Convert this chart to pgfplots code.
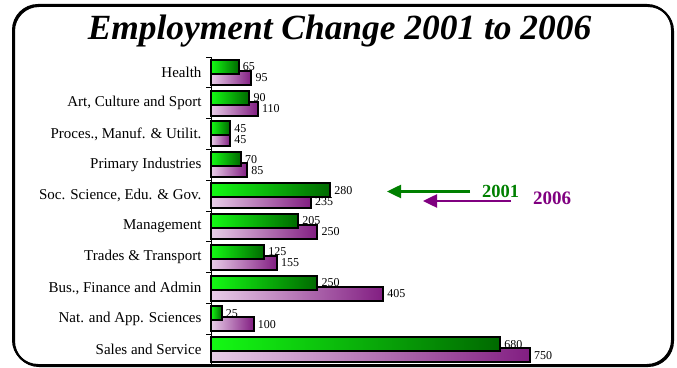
\documentclass[border=0pt]{standalone}
\usepackage{pgfplots}
\usepackage{pgfplotstable}
\pgfplotsset{compat=1.18}
\usepackage{fontspec}
\setmainfont{Liberation Serif}
\usetikzlibrary{arrows.meta}
\definecolor{gL}{RGB}{20,250,20}
\definecolor{gM}{RGB}{0,200,0}
\definecolor{gR}{RGB}{0,105,0}
\definecolor{pL}{RGB}{232,205,232}
\definecolor{pM}{RGB}{200,140,200}
\definecolor{pR}{RGB}{130,30,130}
\definecolor{legG}{RGB}{0,128,0}
\definecolor{legP}{RGB}{128,0,128}
% idx: 0 = Sales and Service (bottom) ... 9 = Health (top)
\pgfplotstableread{
idx y2001 y2006
0 680 750
1 25 100
2 250 405
3 125 155
4 205 250
5 280 235
6 70 85
7 45 45
8 90 110
9 65 95
}\datatable
\begin{document}
\begin{tikzpicture}
\useasboundingbox (0,0) rectangle (677pt,367pt);
\begin{axis}[
  at={(211pt,2pt)}, anchor=south west,
  scale only axis, width=425pt, height=308pt,
  xmin=0, xmax=1000, ymin=-0.5, ymax=9.5,
  xbar, bar width=14pt,
  axis lines*=left,
  x axis line style={draw=none},
  y axis line style={black, line width=0.8pt},
  xtick=\empty,
  ytick={0,...,9},
  yticklabels={Sales and Service, Nat. and App. Sciences, {Bus., Finance and Admin}, Trades \& Transport, Management, {Soc. Science, Edu. \& Gov.}, Primary Industries, {Proces., Manuf. \& Utilit.\hspace{4pt}}, {Art, Culture and Sport}, Health},
  major tick length=0pt,
  minor ytick={0.5,1.5,...,9.5},
  minor tick length=5pt,
  tick align=outside,
  tick style={black, line width=0.8pt},
  yticklabel style={font=\fontsize{15}{15}\selectfont, xshift=-6pt},
  clip=false,
  nodes near coords,
  nodes near coords align={horizontal},
  /pgf/number format/assume math mode=true,
  every node near coord/.append style={font=\fontsize{12}{12}\selectfont, text=black, anchor=west},
]
\pgfplotsinvokeforeach{0,...,9}{
\addplot[draw=black, line width=2pt, left color=pL, middle color=pM, right color=pR, bar shift=-5.5pt,
  y filter/.expression={y==#1 ? y : nan}]
  table[x=y2006, y=idx] {\datatable};
}
\pgfplotsinvokeforeach{0,...,9}{
\addplot[draw=black, line width=2pt, left color=gL, middle color=gM, right color=gR, bar shift=5.5pt,
  y filter/.expression={y==#1 ? y : nan}]
  table[x=y2001, y=idx] {\datatable};
}
\end{axis}
\draw[black, line width=2pt, rounded corners=25pt] (14pt,1pt) rectangle (673pt,361pt);
\draw[black, line width=2pt, rounded corners=25pt] (13pt,2pt) rectangle (672pt,362pt);
\node[anchor=base, font=\fontsize{35.4}{36}\selectfont\bfseries\itshape] at (339.5pt,327pt) {Employment Change 2001 to 2006};
\draw[legG, line width=2.5pt, -{Triangle[length=14pt,width=13pt]}] (470pt,175.5pt) -- (387pt,175.5pt);
\draw[legP, line width=2.5pt, -{Triangle[length=14pt,width=13pt]}] (511pt,166pt) -- (423pt,166pt);
\node[anchor=base west, inner sep=0pt, text=legG, font=\fontsize{18.5}{19}\selectfont\bfseries] at (482pt,169pt) {2001};
\node[anchor=base west, inner sep=0pt, text=legP, font=\fontsize{19}{19}\selectfont\bfseries] at (533pt,162pt) {2006};
\end{tikzpicture}
\end{document}
